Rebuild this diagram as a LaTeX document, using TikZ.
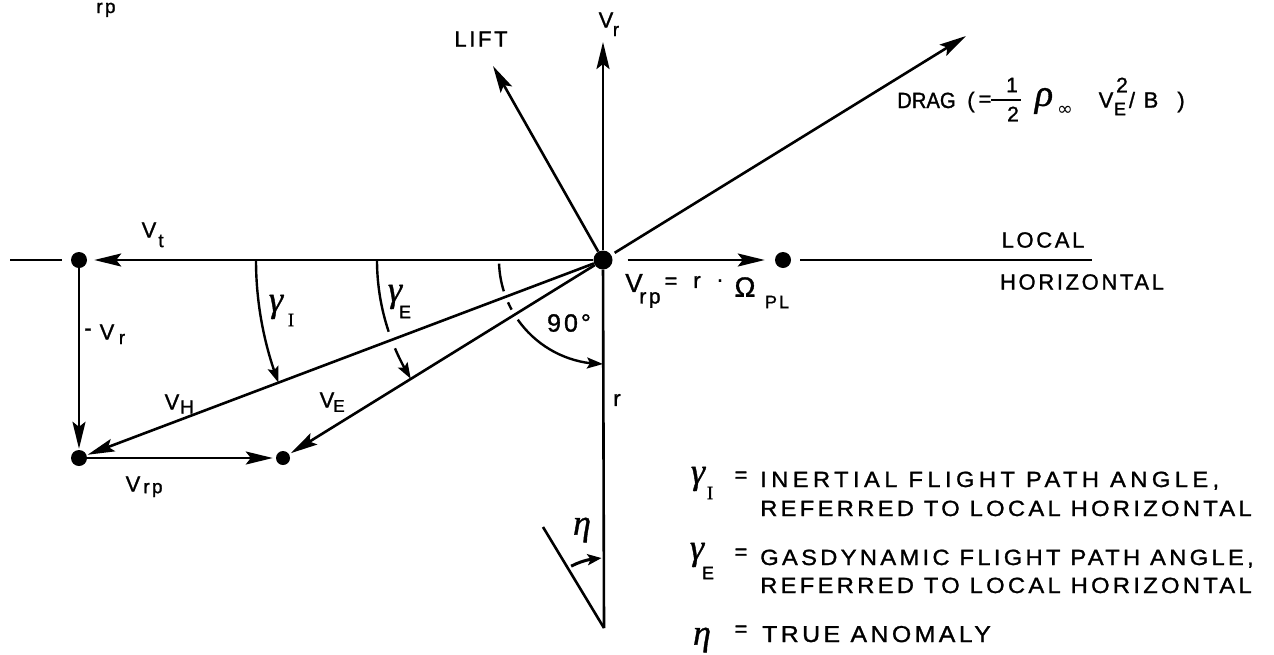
\documentclass[tikz,border=0pt]{standalone}
\usepackage{fontspec}
\setmainfont{Liberation Sans}[LetterSpace=12,FakeBold=1.2]
\newfontfamily\legfont{Liberation Sans}[LetterSpace=15,FakeStretch=1.08,FakeBold=1.2]
\newfontfamily\legwidefont{Liberation Sans}[LetterSpace=20,FakeStretch=1.08,FakeBold=1.2]
\newfontfamily\dragfont{Liberation Sans}[FakeStretch=0.92,FakeBold=1.2]
\newfontfamily\grkfont{Liberation Serif}[FakeBold=1]
\newfontfamily\symfont{DejaVu Sans}
\usetikzlibrary{arrows.meta,bending}
\tikzset{
  vec/.style={line width=2.6pt,-{Stealth[length=27pt,width=13pt,inset=5pt]}},
  ln/.style={line width=2.6pt},
  arcln/.style={line width=2.4pt},
  arcarrow/.style={line width=2.4pt,-{Stealth[length=16pt,width=11pt,inset=3pt]}},
  etaarrow/.style={line width=3pt,-{Stealth[length=14pt,width=11pt,inset=3pt]}},
  dot/.style={circle,fill=black,inner sep=0pt,minimum size=16pt},
  lt/.style={inner sep=0pt,font=\fontsize{22}{24}\selectfont},
  ls/.style={inner sep=0pt,font=\fontsize{19}{20}\selectfont},
  lg/.style={inner sep=0pt,font=\fontsize{36}{38}\selectfont\grkfont\itshape},
  leg/.style={inner sep=0pt,anchor=base west,font=\fontsize{22}{24}\selectfont\legfont},
}
\begin{document}
\begin{tikzpicture}[x=1pt,y=-1pt]
\fill[white] (0,0) rectangle (1274,654);
\useasboundingbox (0,0) rectangle (1274,654);

% points
\node[dot,minimum size=19pt] (C) at (603,260) {};
\node[dot] (A) at (79,260) {};
\node[dot] (B) at (79,458) {};
\node[dot,minimum size=14pt] (D) at (283,458) {};
\node[dot] (R) at (783,260) {};
\coordinate (VrT) at (603,42);
\coordinate (LiftT) at (493,66);
\coordinate (DragT) at (966,36);
\coordinate (StubL) at (10,260);
\coordinate (HorE) at (1092,260);
\coordinate (RB) at (604,628);
\coordinate (EtaT) at (543,527);

% vectors
\draw[vec] (C) -- (VrT);
\draw[vec] (C) -- (LiftT);
\draw[vec,shorten <=4pt] (C) -- (DragT);
\draw[vec,shorten >=7pt] (C) -- (A);
\draw[ln,shorten >=9pt] (StubL) -- (A);
\draw[vec,shorten >=1pt] (A) -- (B);
\draw[vec,shorten >=1pt] (C) -- (B);
\draw[vec,shorten >=2pt] (C) -- (D);
\draw[vec,shorten >=3pt] (B) -- (D);
\draw[vec,shorten <=15pt,shorten >=10pt] (C) -- (R);
\draw[ln,shorten <=9pt] (R) -- (HorE);
\draw[ln] (C) -- (RB);
\draw[ln] (RB) -- (EtaT);

% angle arcs
\draw[arcarrow] ([shift={(180:347)}]C.center) arc[start angle=180,end angle=159.3,radius=347];
\draw[arcln] ([shift={(180:226)}]C.center) arc[start angle=180,end angle=161.5,radius=226];
\draw[arcarrow] ([shift={(157:226)}]C.center) arc[start angle=157,end angle=148.3,radius=226];
\draw[arcln] ([shift={(178:104)}]C.center) arc[start angle=178,end angle=162.5,radius=104];
\draw[arcln] ([shift={(156:104)}]C.center) arc[start angle=156,end angle=151.5,radius=104];
\draw[arcarrow] ([shift={(145:104)}]C.center) arc[start angle=145,end angle=90,radius=104];
\draw[etaarrow] ([shift={(242:70)}]RB) arc[start angle=242,end angle=268,radius=70];

% labels
\node[ls,anchor=base] (cutrp) at (106,13) {rp};
\node[lt] (lVr) at (606,20) {V};
\node[ls] (lVrs) at (616,31) {r};
\node[lt] (lLift) at (481,39) {LIFT};
\node[lt] (lVt) at (149,230) {V};
\node[ls] (lVts) at (161,241) {t};
\node[lt] (lmVm) at (88,332) {-};
\node[lt] (lmV) at (107,332) {V};
\node[ls] (lmVs) at (122,339) {r};
\node[lt] (lVH) at (172,402) {V};
\node[ls] (lVHs) at (187,407) {H};
\node[lt] (lVE) at (327,400) {V};
\node[ls,font=\fontsize{17}{18}\selectfont] (lVEs) at (339,406) {E};
\node[lt] (lVrp) at (133,484) {V};
\node[ls] (lVrps) at (153,490) {rp};
\node[lg] (lgI) at (276,307) {γ};
\node[ls,font=\fontsize{19}{20}\selectfont\grkfont] (lgIs) at (291,320) {I};
\node[lg] (lgE) at (395,297) {γ};
\node[ls,font=\fontsize{18}{20}\selectfont] (lgEs) at (405,312) {E};
\node[lt,font=\fontsize{25}{26}\selectfont] (l90) at (569,323) {90°};
\node[lt] (lr) at (617,400) {r};
\node[lg] (leta) at (582,530) {η};

% V_rp = r . Omega_PL
\node[lt,font=\fontsize{26}{28}\selectfont] (fV) at (634,283) {V};
\node[ls,font=\fontsize{21}{22}\selectfont] (fVs) at (650,300) {rp};
\node[lt] (fEq) at (671,283) {=};
\node[lt] (fr) at (697,282) {r};
\node[lt] (fdot) at (720,283) {·};
\node[lt,font=\fontsize{28}{30}\selectfont] (fOm) at (745,287) {Ω};
\node[ls,font=\fontsize{18}{20}\selectfont] (fPL) at (777,302) {PL};

\node[lt] (lLocal) at (1043,240) {LOCAL};
\node[lt] (lHor) at (1082,282) {HORIZONTAL};

% DRAG expression
\node[lt,font=\fontsize{22}{24}\selectfont\dragfont,anchor=base west] (dDrag) at (897,108) {DRAG};
\node[lt] (dPo) at (971,102) {(};
\node[lt] (dEq) at (985,101) {=};
\draw[line width=2.2pt] (991,100) -- (1021,100);
\node[ls,font=\fontsize{21}{22}\selectfont] (dOne) at (1012,85) {1};
\node[ls,font=\fontsize{21}{22}\selectfont] (dTwo) at (1013,114) {2};
\node[lg,font=\fontsize{38}{40}\selectfont\grkfont\itshape] (dRho) at (1044,101) {ρ};
\node[ls,font=\fontsize{19}{20}\selectfont\symfont] (dInf) at (1065,111) {∞};
\node[lt] (dV) at (1106,100) {V};
\node[ls,font=\fontsize{21}{22}\selectfont] (dSq) at (1122,85) {2};
\node[ls,font=\fontsize{18}{20}\selectfont] (dE) at (1120,109) {E};
\node[lt] (dSl) at (1132,100) {/};
\node[lt] (dB) at (1151,100) {B};
\node[lt] (dPc) at (1181,102) {)};

% legend
\node[lg] (kgI) at (698,479) {γ};
\node[ls,font=\fontsize{19}{20}\selectfont\grkfont] (kgIs) at (710,493) {I};
\node[lt] (kEq1) at (741,477) {=};
\node[leg,font=\fontsize{22}{24}\selectfont\legwidefont] (k1) at (760,487) {INERTIAL FLIGHT PATH ANGLE,};
\node[leg] (k2) at (760,516) {REFERRED TO LOCAL HORIZONTAL};
\node[lg] (kgE) at (697,555) {γ};
\node[ls,font=\fontsize{18}{20}\selectfont] (kgEs) at (708,573) {E};
\node[lt] (kEq2) at (741,554) {=};
\node[leg] (k3) at (760,565) {GASDYNAMIC FLIGHT PATH ANGLE,};
\node[leg] (k4) at (760,593) {REFERRED TO LOCAL HORIZONTAL};
\node[lg] (keta) at (702,640) {η};
\node[lt] (kEq3) at (741,631) {=};
\node[leg,font=\fontsize{23}{24}\selectfont\legfont] (k5) at (762,642) {TRUE ANOMALY};
\end{tikzpicture}
\end{document}
